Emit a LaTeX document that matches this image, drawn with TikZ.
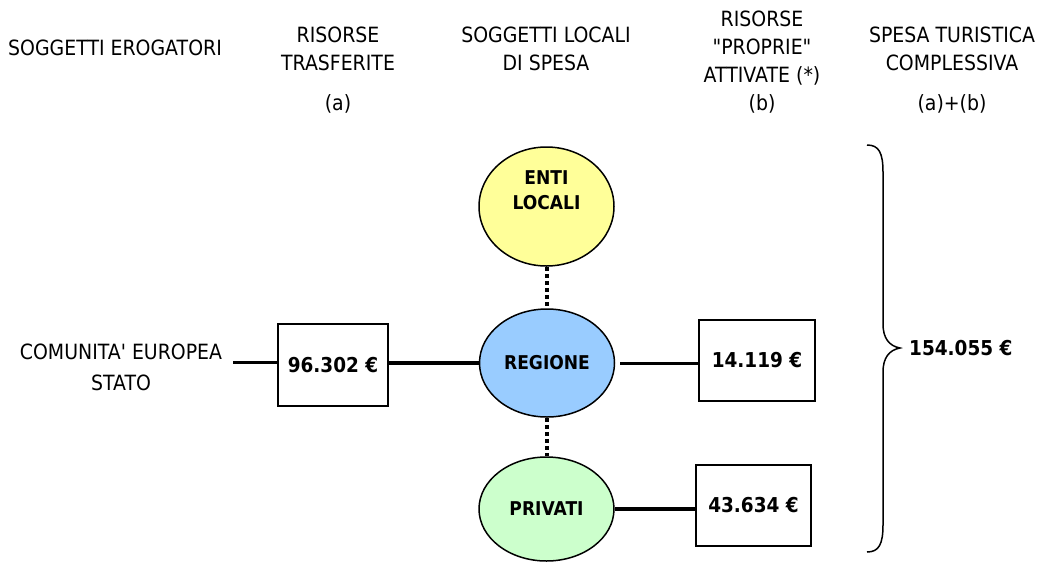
\documentclass[tikz,border=0pt]{standalone}
\usepackage{fontspec}
\newfontfamily\dv[FakeStretch=0.9]{DejaVu Sans}
\usetikzlibrary{shapes.geometric}
\definecolor{entiyellow}{HTML}{FFFF99}
\definecolor{regblue}{HTML}{99CCFF}
\definecolor{privgreen}{HTML}{CCFFCC}
\tikzset{
  hdr/.style={font=\dv\fontsize{21}{28}\selectfont, align=center, inner sep=0pt},
  soggetto/.style={ellipse, draw=black, line width=1.5pt, minimum width=135pt,
    minimum height=#1, inner sep=0pt, font=\dv\bfseries\fontsize{19}{25}\selectfont, align=center},
  soggetto/.default=108pt,
  lbl/.style={font=\dv\bfseries\fontsize{19}{25}\selectfont, align=center, inner sep=0pt},
  valbox/.style={rectangle, draw=black, line width=1.5pt, minimum width=#1,
    minimum height=82pt, inner sep=0pt, font=\dv\bfseries\fontsize{20.5}{25}\selectfont},
  valbox/.default=115pt,
  flow/.style={line width=#1},
  flow/.default=3pt,
  link/.style={line width=4.5pt, dash pattern=on 4pt off 3pt},
}
\begin{document}
\begin{tikzpicture}[x=1pt,y=-1pt]
\useasboundingbox (0,0) rectangle (1050,563);

% column headings
\node[hdr] (h1) at (115,48) {SOGGETTI EROGATORI};
\node[hdr] (h2) at (338,49) {RISORSE\\TRASFERITE};
\node[hdr] (h2a) at (338,104) {(a)};
\node[hdr] (h3) at (546,49) {SOGGETTI LOCALI\\DI SPESA};
\node[hdr] (h4) at (762,48) {RISORSE\\"PROPRIE"\\ATTIVATE (*)};
\node[hdr] (h4b) at (762,104) {(b)};
\node[hdr] (h5) at (952,49) {SPESA TURISTICA\\COMPLESSIVA};
\node[hdr] (h5ab) at (952,104) {(a)+(b)};

% funding sources
\node[hdr, font=\dv\fontsize{21}{31}\selectfont] (src) at (121,367) {COMUNITA' EUROPEA\\STATO};
\coordinate (srcend) at (233,362);

% local spending bodies
\node[soggetto=119pt, fill=entiyellow, label={[lbl, yshift=16pt]center:ENTI\\LOCALI}] (enti) at (546.5,206.5) {};
\node[soggetto, fill=regblue] (regione) at (547,363) {REGIONE};
\node[soggetto=104pt, fill=privgreen] (privati) at (546.5,509) {PRIVATI};

% amounts
\node[valbox=110pt] (trasf) at (333,365) {96.302 €};
\node[valbox=116pt, minimum height=81pt] (proprie) at (757,360.5) {14.119 €};
\node[valbox=115pt, minimum height=81pt] (privval) at (753.5,505.5) {43.634 €};

% connectors
\draw[flow] (srcend) -- (srcend -| trasf.west);
\draw[flow=4pt] (regione.west) -- (regione.west -| trasf.east);
\draw[flow] ([xshift=5pt]regione.east) -- (regione.east -| proprie.west);
\draw[flow=4pt] (privati.east) -- (privati.east -| privval.west);
\draw[link] (regione.north |- enti.south) -- (regione.north);
\draw[link] (regione.south) -- (regione.south |- privati.north);

% total
\draw[line width=1.5pt] (867,145) .. controls (879,145) and (883,153) .. (883,172) -- (883,324)
  .. controls (883,338) and (889,346) .. (900,348) .. controls (889,350) and (883,358) .. (883,372) -- (883,525)
  .. controls (883,544) and (879,552) .. (867,552);
\node[anchor=west, inner sep=0pt, font=\dv\bfseries\fontsize{20.5}{25}\selectfont] (total) at (909,348) {154.055 €};
\end{tikzpicture}
\end{document}
